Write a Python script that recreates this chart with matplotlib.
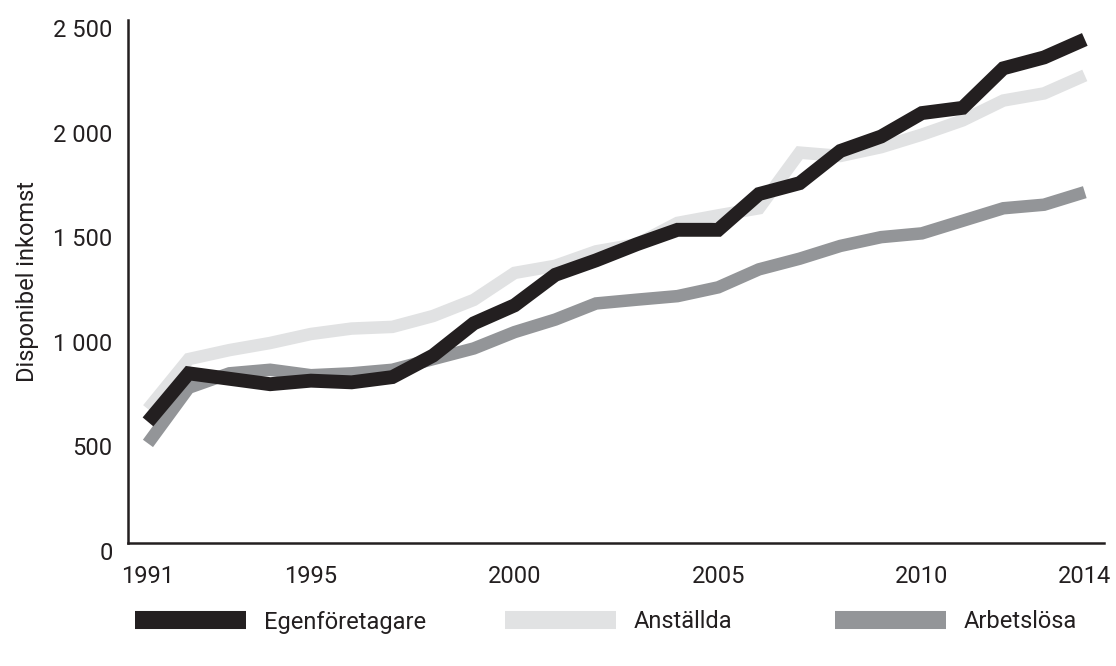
import matplotlib.pyplot as plt
from matplotlib.lines import Line2D
from matplotlib.ticker import FuncFormatter
from matplotlib.transforms import ScaledTranslation

years = list(range(1991, 2015))

# Disponibel inkomst per grupp
egen = [579, 811, 785, 759, 776, 768, 793, 896, 1050, 1136, 1282, 1351, 1428, 1497, 1497,
        1668, 1720, 1874, 1943, 2055, 2080, 2269, 2321, 2407]
anstallda = [640, 879, 922, 956, 999, 1025, 1033, 1085, 1162, 1291, 1325, 1394, 1428, 1530, 1566,
             1600, 1866, 1850, 1892, 1952, 2020, 2115, 2149, 2235]
arbetslosa = [476, 742, 811, 828, 802, 811, 828, 879, 930, 1008, 1068, 1145, 1163, 1180, 1222,
              1308, 1359, 1420, 1462, 1480, 1540, 1600, 1617, 1677]

labels = ['Egenföretagare', 'Anställda', 'Arbetslösa']
xticks = [1991, 1995, 2000, 2005, 2010, 2014]
yticks = [0, 500, 1000, 1500, 2000, 2500]

black = '#231f20'
light = '#e1e2e3'
grey = '#939598'

plt.rcParams['font.family'] = ['Roboto', 'DejaVu Sans']
fs = 17

fig = plt.figure(figsize=(11.16, 6.66), dpi=100)
ax = fig.add_axes([0.1147, 0.1847, 0.8745, 0.7853])

ax.plot(years, anstallda, color=light, lw=9, solid_capstyle='butt', solid_joinstyle='miter')
ax.plot(years, arbetslosa, color=grey, lw=9, solid_capstyle='butt', solid_joinstyle='miter')
ax.plot(years, egen, color=black, lw=10, solid_capstyle='butt', solid_joinstyle='miter')

ax.set_xlim(1990.51, 2014.47)
ax.set_ylim(0, 2500)

for s in ['top', 'right']:
    ax.spines[s].set_visible(False)
for s in ['left', 'bottom']:
    ax.spines[s].set_color(black)
    ax.spines[s].set_linewidth(1.8)

ax.set_xticks(xticks)
ax.set_yticks(yticks)
ax.yaxis.set_major_formatter(FuncFormatter(lambda v, p: f'{int(v):,}'.replace(',', ' ')))
ax.tick_params(length=0, labelsize=fs, colors=black)
ax.tick_params(axis='x', pad=16)
ax.tick_params(axis='y', pad=11)
shift = ScaledTranslation(0, -8 / 100, fig.dpi_scale_trans)
for lab in ax.get_yticklabels():
    lab.set_transform(lab.get_transform() + shift)

ax.set_ylabel('Disponibel inkomst', fontsize=fs, color=black, labelpad=10)

# förklaring under diagrammet, en post per grupp
legend_x = [0.121, 0.4525, 0.748]
for lab, col, x0 in zip(labels, [black, light, grey], legend_x):
    h = Line2D([], [], color=col, lw=13, solid_capstyle='butt')
    fig.legend([h], [lab], loc='center left', bbox_to_anchor=(x0, 1 - 622 / 666),
               frameon=False, borderpad=0, borderaxespad=0,
               handlelength=4.7, handletextpad=0.75, fontsize=fs, labelcolor=black)

fig.savefig('out.png', dpi=100)
